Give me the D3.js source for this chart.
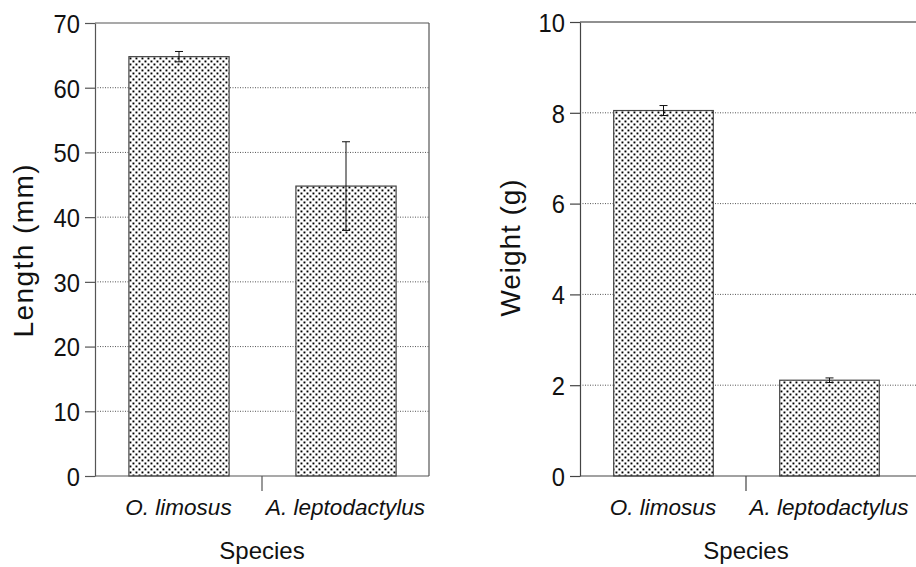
<!DOCTYPE html>
<html>
<head>
<meta charset="utf-8">
<script src="https://cdn.jsdelivr.net/npm/d3@7"></script>
<style>
  html, body { margin: 0; padding: 0; background: #fff; }
  svg { display: block; }
  text { font-family: "Liberation Sans", Arial, Helvetica, sans-serif; fill: #111; }
</style>
</head>
<body>
<svg id="chart" width="916" height="567"></svg>
<script>
// ---- data ----
const categories = ["O. limosus", "A. leptodactylus"];
const lengthMean = [64.8, 44.8];
const lengthErr = [0.8, 6.85];
const weightMean = [8.05, 2.11];
const weightErr = [0.11, 0.05];
const lengthTicks = [0, 10, 20, 30, 40, 50, 60, 70];
const weightTicks = [0, 2, 4, 6, 8, 10];
const xTitle = "Species";
const lengthTitle = "Length (mm)";
const weightTitle = "Weight (g)";

const svg = d3.select("#chart");

// stipple pattern
const defs = svg.append("defs");
const pat = defs.append("pattern")
  .attr("id", "stipple")
  .attr("patternUnits", "userSpaceOnUse")
  .attr("width", 6).attr("height", 6);
pat.append("rect").attr("width", 6).attr("height", 6).attr("fill", "#fff");
pat.append("rect").attr("x", 0.5).attr("y", 0.5).attr("width", 1.9).attr("height", 1.9).attr("fill", "#000");
pat.append("rect").attr("x", 3.5).attr("y", 3.5).attr("width", 1.9).attr("height", 1.9).attr("fill", "#000");

function drawPanel(o) {
  const g = svg.append("g");
  const y = d3.scaleLinear().domain(o.domain).range([o.bottom, o.top]);
  const x = d3.scaleBand().domain(categories).range([o.left, o.right])
    .paddingInner(0.4).paddingOuter(0.2);

  // gridlines
  g.append("g").selectAll("line")
    .data(o.ticks.filter(t => t > o.domain[0] && t < o.domain[1]))
    .join("line")
    .attr("x1", o.left).attr("x2", o.frameRight)
    .attr("y1", d => y(d)).attr("y2", d => y(d))
    .attr("stroke", "#555").attr("stroke-width", 1)
    .attr("stroke-dasharray", "1,1.5");

  // frame top & right
  g.append("line").attr("x1", o.left).attr("x2", o.frameRight)
    .attr("y1", y(o.domain[1])).attr("y2", y(o.domain[1]))
    .attr("stroke", o.frameColor).attr("stroke-width", 1.2);
  g.append("line").attr("x1", o.frameRight).attr("x2", o.frameRight)
    .attr("y1", y(o.domain[1])).attr("y2", o.bottom)
    .attr("stroke", o.frameColor).attr("stroke-width", 1.2);

  // bars
  g.append("g").selectAll("rect")
    .data(categories.map((c, i) => ({ c, v: o.mean[i], e: o.err[i] })))
    .join("rect")
    .attr("x", d => x(d.c) + 0.5)
    .attr("y", d => y(d.v))
    .attr("width", x.bandwidth())
    .attr("height", d => o.bottom - y(d.v))
    .attr("fill", "url(#stipple)")
    .attr("stroke", "#444").attr("stroke-width", 1.2);

  // error bars
  const eb = g.append("g").selectAll("g")
    .data(categories.map((c, i) => ({ c, v: o.mean[i], e: o.err[i] })))
    .join("g")
    .attr("stroke", "#111").attr("stroke-width", 1);
  const cx = d => x(d.c) + x.bandwidth() / 2 + 0.5;
  eb.append("line").attr("x1", cx).attr("x2", cx)
    .attr("y1", d => y(d.v + d.e)).attr("y2", d => y(d.v - d.e));
  eb.append("line").attr("x1", d => cx(d) - 4).attr("x2", d => cx(d) + 4)
    .attr("y1", d => y(d.v + d.e)).attr("y2", d => y(d.v + d.e));
  eb.append("line").attr("x1", d => cx(d) - 4).attr("x2", d => cx(d) + 4)
    .attr("y1", d => y(d.v - d.e)).attr("y2", d => y(d.v - d.e));

  // y axis
  const ya = g.append("g").attr("transform", `translate(${o.left},0)`)
    .call(d3.axisLeft(y).tickValues(o.ticks).tickSize(10).tickPadding(5).tickSizeOuter(0));
  ya.select(".domain").attr("stroke", o.axisColor).attr("stroke-width", 1.2);
  ya.selectAll(".tick line").attr("stroke", o.axisColor).attr("stroke-width", 1.2);
  ya.selectAll(".tick text")
    .style("font-size", "26px")
    .attr("dy", "0.36em")
    .attr("textLength", d => String(d).length * 13.2)
    .attr("lengthAdjust", "spacingAndGlyphs")
    .attr("fill", "#111");

  // x axis baseline (extends to frame right)
  g.append("line").attr("x1", o.left).attr("x2", o.frameRight)
    .attr("y1", o.bottom).attr("y2", o.bottom)
    .attr("stroke", o.axisColor).attr("stroke-width", 1.2);

  // x axis labels via band scale
  const xa = g.append("g").attr("transform", `translate(0,${o.bottom})`)
    .call(d3.axisBottom(x).tickSize(0).tickSizeOuter(0));
  xa.select(".domain").remove();
  xa.selectAll(".tick text")
    .attr("y", 39).attr("dy", 0)
    .style("font-size", "22.5px")
    .style("font-style", "italic")
    .attr("fill", "#111");

  // divider tick between categories
  const divX = x(categories[1]) - x.step() * x.paddingInner() / 2;
  g.append("line").attr("x1", divX).attr("x2", divX)
    .attr("y1", o.bottom).attr("y2", o.bottom + 15)
    .attr("stroke", o.axisColor).attr("stroke-width", 1.2);

  // x title
  g.append("text")
    .attr("x", divX).attr("y", 559)
    .attr("text-anchor", "middle")
    .style("font-size", "24px")
    .text(xTitle);

  // y title
  g.append("text")
    .attr("transform", `translate(${o.titleX},${o.titleY}) rotate(-90)`)
    .attr("text-anchor", "middle")
    .attr("textLength", o.titleLen)
    .attr("lengthAdjust", "spacing")
    .style("font-size", "28px")
    .text(o.title);
}

drawPanel({
  domain: [0, 70], ticks: lengthTicks, mean: lengthMean, err: lengthErr,
  left: 95, right: 429, frameRight: 429, top: 23, bottom: 476,
  frameColor: "#555", axisColor: "#555",
  title: lengthTitle, titleX: 33, titleY: 251, titleLen: 173
});
drawPanel({
  domain: [0, 10], ticks: weightTicks, mean: weightMean, err: weightErr,
  left: 580, right: 912, frameRight: 918, top: 22, bottom: 476,
  frameColor: "#222", axisColor: "#444",
  title: weightTitle, titleX: 520, titleY: 248, titleLen: 137
});
</script>
</body>
</html>
